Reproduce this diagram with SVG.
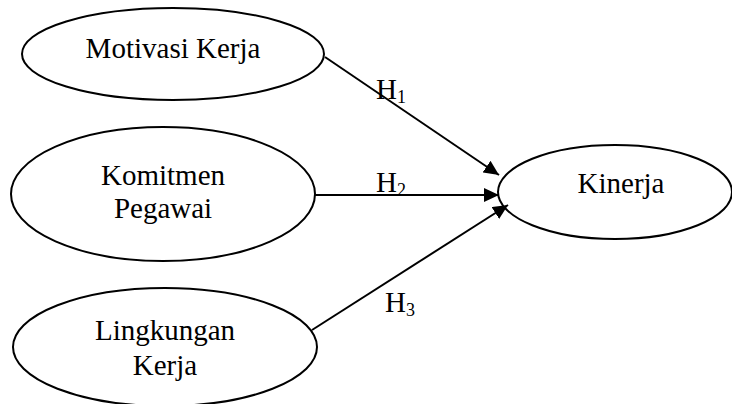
<svg xmlns="http://www.w3.org/2000/svg" width="732" height="404" viewBox="0 0 732 404">
  <style>
    .node ellipse { fill: #ffffff; stroke: #000000; stroke-width: 2; }
    .label { font-family: "Liberation Serif", "Times New Roman", serif; font-size: 29px; fill: #000000; text-anchor: middle; }
    .hyp { font-family: "Liberation Serif", "Times New Roman", serif; font-size: 29px; fill: #000000; }
    .sub { font-size: 18px; }
    .edge { stroke: #000000; stroke-width: 2; fill: none; marker-end: url(#arrow); }
  </style>
  <defs>
    <marker id="arrow" markerUnits="userSpaceOnUse" markerWidth="16" markerHeight="14" refX="15" refY="7" orient="auto">
      <path d="M0,0 L15,7 L0,14 Z" fill="#000000"/>
    </marker>
  </defs>
  <rect width="732" height="404" fill="#ffffff"/>

  <g id="motivasi-kerja" class="node">
    <ellipse cx="173" cy="54" rx="151" ry="46"/>
    <text class="label" x="173" y="58">Motivasi Kerja</text>
  </g>

  <g id="komitmen-pegawai" class="node">
    <ellipse cx="163" cy="194" rx="152" ry="67"/>
    <text class="label" x="163" y="185">Komitmen</text>
    <text class="label" x="163" y="218">Pegawai</text>
  </g>

  <g id="lingkungan-kerja" class="node">
    <ellipse cx="165" cy="347" rx="152" ry="59"/>
    <text class="label" x="165" y="340">Lingkungan</text>
    <text class="label" x="165" y="375">Kerja</text>
  </g>

  <g id="kinerja" class="node">
    <ellipse cx="615" cy="192" rx="117" ry="47"/>
    <text class="label" x="621" y="193">Kinerja</text>
  </g>

  <g id="connectors">
    <line class="edge" x1="325" y1="57" x2="499" y2="175"/>
    <line class="edge" x1="315" y1="195" x2="499" y2="195"/>
    <line class="edge" x1="312" y1="330" x2="508" y2="205"/>
    <text class="hyp" x="376" y="99">H<tspan class="sub" dy="4">1</tspan></text>
    <text class="hyp" x="376" y="192">H<tspan class="sub" dy="4">2</tspan></text>
    <text class="hyp" x="385" y="312">H<tspan class="sub" dy="4">3</tspan></text>
  </g>
</svg>
